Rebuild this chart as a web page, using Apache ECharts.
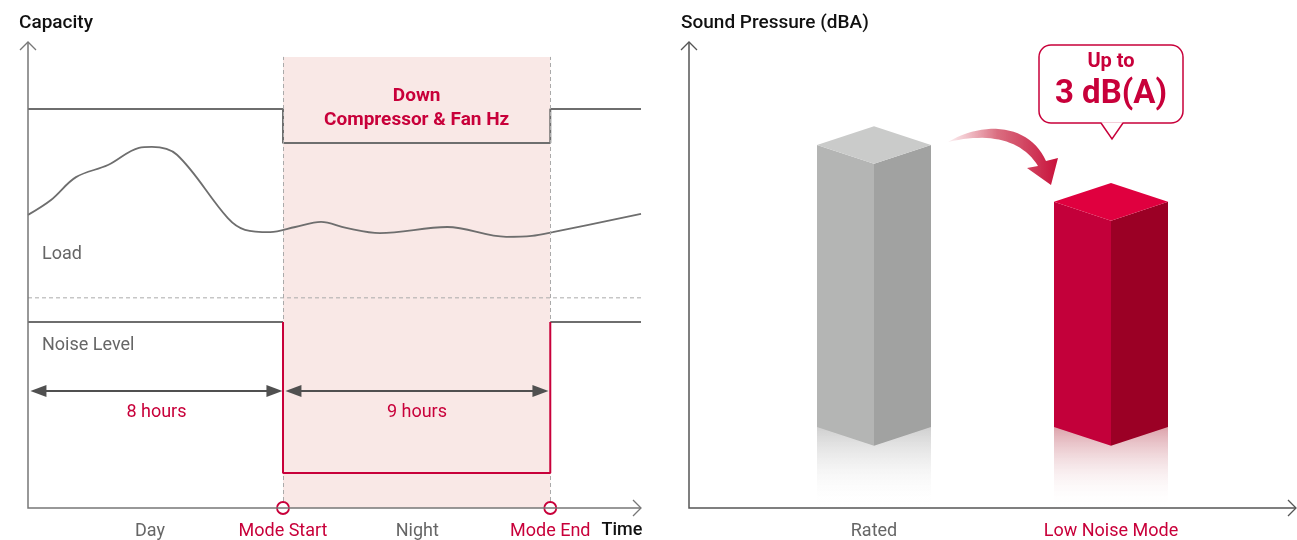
<!DOCTYPE html>
<html><head><meta charset="utf-8">
<script src="https://cdn.jsdelivr.net/npm/echarts@6.0.0/dist/echarts.min.js"></script>
<style>html,body{margin:0;padding:0;background:#fff}#c{width:1297px;height:540px}</style>
</head><body><div id="c"></div>
<script>
// ---------- LEFT PANEL DATA (normalized 0–100 time / capacity units) ----------
const timeMarks = ['Day', 'Mode Start', 'Night', 'Mode End'];
const timeMarkX = [19.9, 41.6, 63.5, 85.2];
const modeStart = 41.6;
const modeEnd = 85.2;
const shadeTop = 96.8;
const capacityLevels = [85.6, 78.3];          // normal, reduced (Down Compressor & Fan Hz)
const loadX = [0, 3.75, 7.83, 13.05, 18.1, 20.2, 24.3, 32.6, 35.4, 39.5, 43.6, 47.8, 51.9, 57.4, 68.4, 78.0, 82.2, 85.6, 100];
const loadY = [62.9, 66.1, 71.0, 73.6, 77.3, 77.5, 75.8, 62.2, 59.7, 59.2, 60.3, 61.4, 60.1, 59.0, 60.3, 58.2, 58.4, 59.2, 63.1];
const separatorLevel = 45.1;
const noiseLevels = [39.9, 7.5];              // normal, low-noise mode
const durationLabels = ['8 hours', '9 hours'];
const durationLevel = 25.1;
const durationSpans = [[1.7, 40.2], [43.3, 83.6]];

// ---------- RIGHT PANEL DATA ----------
const modes = ['Rated', 'Low Noise Mode'];
const soundPressure = [77.9, 65.7];
const barBase = 17.4;

const RED = '#c8003a', GRAYTXT = '#666', LINE = '#6e6e6e';
const FONT = 'Roboto, "Noto Sans", sans-serif';

const chart = echarts.init(document.getElementById('c'));

const capData = [
  [0, capacityLevels[0]], [modeStart, capacityLevels[0]], [modeStart, capacityLevels[1]],
  [modeEnd, capacityLevels[1]], [modeEnd, capacityLevels[0]], [100, capacityLevels[0]]
];
const loadData = loadX.map((x, i) => [x, loadY[i]]);

const faces = [
  {left: '#b4b5b4', right: '#a1a2a1', top: '#cacbca', refl: '#cfcfcf'},
  {left: '#c3003a', right: '#9b0025', top: '#e0003f', refl: '#dca2aa'}
];

// swoosh arrow outline (decoration), sampled from cubic curves
function cubic(p0, p1, p2, p3, n) {
  const pts = [];
  for (let k = 0; k <= n; k++) {
    const t = k / n, u = 1 - t;
    pts.push([u*u*u*p0[0] + 3*u*u*t*p1[0] + 3*u*t*t*p2[0] + t*t*t*p3[0],
              u*u*u*p0[1] + 3*u*u*t*p1[1] + 3*u*t*t*p2[1] + t*t*t*p3[1]]);
  }
  return pts;
}
const swoosh = [].concat(
  cubic([948, 142], [985, 120], [1030, 125], [1046, 161], 24),
  [[1058, 158], [1051, 185], [1027, 168]],
  cubic([1038, 166], [1022, 140], [990, 132], [948, 142], 24)
);

const base = {type: 'line', xAxisIndex: 0, yAxisIndex: 0, symbol: 'none', silent: true, animation: false};

const option = {
  animation: false,
  grid: [
    {left: 28, top: 42, width: 613, height: 466, containLabel: false},
    {left: 755.5, top: 42, width: 474, height: 466, containLabel: false}
  ],
  xAxis: [
    {type: 'value', gridIndex: 0, min: 0, max: 100, show: false},
    {type: 'category', gridIndex: 1, data: modes, boundaryGap: true,
     axisLine: {show: false}, axisTick: {show: false}, splitLine: {show: false},
     axisLabel: {margin: 14, fontFamily: FONT, fontSize: 18,
       formatter: (v, i) => i === 0 ? '{g|' + v + '}' : '{r|' + v + '}',
       rich: {g: {color: GRAYTXT, fontSize: 18, fontFamily: FONT}, r: {color: RED, fontSize: 18, fontFamily: FONT}}}}
  ],
  yAxis: [
    {type: 'value', gridIndex: 0, min: 0, max: 100, show: false},
    {type: 'value', gridIndex: 1, min: 0, max: 100, show: false}
  ],
  series: [
    Object.assign({}, base, {
      name: 'shade', data: [], z: 1,
      markArea: {silent: true, itemStyle: {color: '#f9e8e6'},
        label: {show: true, position: 'insideTop', distance: 27, color: RED, fontFamily: FONT,
          fontSize: 19, fontWeight: 'bold', lineHeight: 24, formatter: 'Down\nCompressor & Fan Hz'},
        data: [[{coord: [modeStart, 0]}, {coord: [modeEnd, shadeTop]}]]},
      markLine: {silent: true, symbol: 'none', label: {show: false},
        lineStyle: {color: '#aaa', type: [4, 3], width: 1},
        data: [[{coord: [modeStart, 0]}, {coord: [modeStart, shadeTop]}],
               [{coord: [modeEnd, 0]}, {coord: [modeEnd, shadeTop]}]]}
    }),
    Object.assign({}, base, {name: 'sep', z: 2, data: [[0, separatorLevel], [100, separatorLevel]],
      lineStyle: {color: '#aaa', width: 1, type: [4, 3]}}),
    Object.assign({}, base, {name: 'capacity', z: 3, data: capData, lineStyle: {color: LINE, width: 2}}),
    Object.assign({}, base, {name: 'load', z: 3, data: loadData, smooth: 0.35, lineStyle: {color: LINE, width: 1.8}}),
    Object.assign({}, base, {name: 'noiseA', z: 3, data: [[0, noiseLevels[0]], [modeStart, noiseLevels[0]]], lineStyle: {color: LINE, width: 2}}),
    Object.assign({}, base, {name: 'noiseB', z: 3, data: [[modeEnd, noiseLevels[0]], [100, noiseLevels[0]]], lineStyle: {color: LINE, width: 2}}),
    Object.assign({}, base, {name: 'noiseLow', z: 7, data: [[modeStart, noiseLevels[0]], [modeStart, noiseLevels[1]], [modeEnd, noiseLevels[1]], [modeEnd, noiseLevels[0]]], lineStyle: {color: RED, width: 2}}),
    Object.assign({}, base, {
      name: 'durations', data: [], z: 5,
      markLine: {silent: true, symbol: ['triangle', 'triangle'], symbolSize: [12, 16],
        lineStyle: {color: '#505050', width: 1.8, type: 'solid', opacity: 1},
        itemStyle: {color: '#444'},
        label: {show: true, position: 'insideMiddleBottom', distance: 12, formatter: '{b}', color: RED, fontSize: 18, fontFamily: FONT},
        data: durationSpans.map((s, i) => [{coord: [s[0], durationLevel], name: durationLabels[i]}, {coord: [s[1], durationLevel]}])}
    }),
    {
      type: 'scatter', xAxisIndex: 0, yAxisIndex: 0, silent: true, z: 8, animation: false,
      data: timeMarks.map((t, i) => {
        const isMode = i % 2 === 1;
        return {name: t, value: [timeMarkX[i], 0], symbolSize: isMode ? 12 : 0,
          itemStyle: {color: '#fff', borderColor: RED, borderWidth: 1.8, opacity: 1},
          label: {show: true, position: 'bottom', distance: isMode ? 8 : 14, formatter: '{b}',
            color: isMode ? RED : GRAYTXT, fontSize: 18, fontFamily: FONT, opacity: 1}};
      })
    },
    {
      type: 'custom', xAxisIndex: 1, yAxisIndex: 1, silent: true, animation: false, z: 3,
      data: modes.map((m, i) => [i, soundPressure[i], barBase]),
      renderItem: (params, api) => {
        const i = api.value(0);
        const top = api.coord([i, api.value(1)]);
        const bot = api.coord([i, api.value(2)]);
        const zero = api.coord([i, 0]);
        const hw = api.size([1, 0])[0] * 0.2405;
        const d = hw * 0.33;
        const cx = top[0], yt = top[1], yb = bot[1];
        const f = faces[i];
        return {type: 'group', children: [
          {type: 'rect', shape: {x: cx - hw, y: yb, width: hw * 2, height: zero[1] - yb - 1},
           style: {fill: new echarts.graphic.LinearGradient(0, 0, 0, 1, [{offset: 0, color: f.refl}, {offset: 1, color: 'rgba(255,255,255,0)'}])}},
          {type: 'polygon', shape: {points: [[cx - hw, yt], [cx, yt + d], [cx, yb + d], [cx - hw, yb]]}, style: {fill: f.left}},
          {type: 'polygon', shape: {points: [[cx, yt + d], [cx + hw, yt], [cx + hw, yb], [cx, yb + d]]}, style: {fill: f.right}},
          {type: 'polygon', shape: {points: [[cx - hw, yt], [cx, yt - d], [cx + hw, yt], [cx, yt + d]]}, style: {fill: f.top}}
        ]};
      }
    }
  ],
  graphic: [
    // axes
    {type: 'polyline', shape: {points: [[28, 42], [28, 508], [641, 508]]}, style: {stroke: '#777', lineWidth: 1.5, fill: null}, z: 10},
    {type: 'polyline', shape: {points: [[20, 50], [28, 42], [36, 50]]}, style: {stroke: '#777', lineWidth: 1.3, fill: null}, z: 10},
    {type: 'polyline', shape: {points: [[633, 500], [641, 508], [633, 516]]}, style: {stroke: '#777', lineWidth: 1.3, fill: null}, z: 10},
    {type: 'polyline', shape: {points: [[689, 42], [689, 508], [1296, 508]]}, style: {stroke: '#555', lineWidth: 1.5, fill: null}, z: 10},
    {type: 'polyline', shape: {points: [[681, 50], [689, 42], [697, 50]]}, style: {stroke: '#555', lineWidth: 1.3, fill: null}, z: 10},
    {type: 'polyline', shape: {points: [[1288, 500], [1296, 508], [1288, 516]]}, style: {stroke: '#555', lineWidth: 1.3, fill: null}, z: 10},
    // titles & labels
    {type: 'text', z: 10, style: {text: 'Capacity', x: 19, y: 23, textVerticalAlign: 'middle', fill: '#111', fontFamily: FONT, fontSize: 19, fontWeight: 500}},
    {type: 'text', z: 10, style: {text: 'Sound Pressure (dBA)', x: 681, y: 23, textVerticalAlign: 'middle', fill: '#111', fontFamily: FONT, fontSize: 19, fontWeight: 500}},
    {type: 'text', z: 10, style: {text: 'Load', x: 42, y: 254, textVerticalAlign: 'middle', fill: GRAYTXT, fontFamily: FONT, fontSize: 18}},
    {type: 'text', z: 10, style: {text: 'Noise Level', x: 42, y: 345, textVerticalAlign: 'middle', fill: GRAYTXT, fontFamily: FONT, fontSize: 18}},
    {type: 'text', z: 10, style: {text: 'Time', x: 622, y: 530, textAlign: 'center', textVerticalAlign: 'middle', fill: '#111', fontFamily: FONT, fontSize: 18, fontWeight: 500}},
    // swoosh arrow
    {type: 'polygon', z: 10, shape: {points: swoosh},
     style: {fill: new echarts.graphic.LinearGradient(0, 0, 1, 0, [{offset: 0, color: 'rgba(220,90,110,0.1)'}, {offset: 0.45, color: 'rgba(205,60,85,0.75)'}, {offset: 1, color: '#c8103a'}])}},
    // callout
    {type: 'rect', z: 10, shape: {x: 1039, y: 45, width: 144, height: 78, r: 12}, style: {fill: '#fff', stroke: RED, lineWidth: 1.5}},
    {type: 'polygon', z: 11, shape: {points: [[1101, 122.2], [1112, 139], [1123, 122.2]]}, style: {fill: '#fff'}},
    {type: 'polyline', z: 11, shape: {points: [[1101, 123], [1112, 139], [1123, 123]]}, style: {stroke: RED, lineWidth: 1.5, fill: null}},
    {type: 'text', z: 12, style: {text: 'Up to', x: 1111, y: 62, textAlign: 'center', textVerticalAlign: 'middle', fill: RED, fontFamily: FONT, fontSize: 20, fontWeight: 'bold'}},
    {type: 'text', z: 12, style: {text: '3 dB(A)', x: 1111, y: 95, textAlign: 'center', textVerticalAlign: 'middle', fill: RED, fontFamily: FONT, fontSize: 33, fontWeight: 'bold'}}
  ]
};
chart.setOption(option);
</script></body></html>
